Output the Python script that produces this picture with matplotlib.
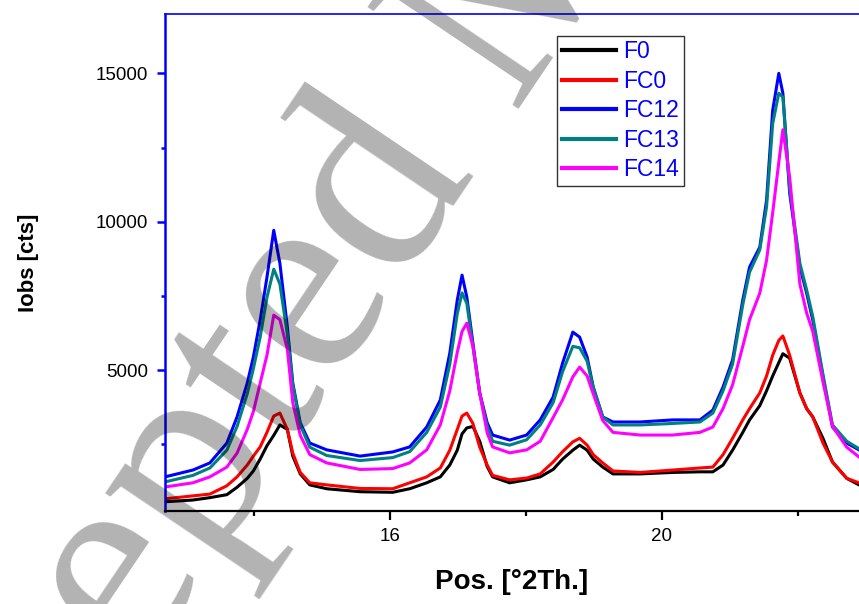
import matplotlib.pyplot as plt
from matplotlib.ticker import MultipleLocator

plt.rcParams['font.family'] = ['Liberation Sans', 'DejaVu Sans']

# Diffraction angle (degrees 2-theta) and measured intensity (counts)
two_theta = [12.69, 13.10, 13.35, 13.60, 13.75, 13.90, 13.99, 14.09, 14.19, 14.29,
             14.38, 14.49, 14.57, 14.68, 14.82, 15.07, 15.56, 16.04, 16.29, 16.54,
             16.74, 16.88, 16.99, 17.06, 17.13, 17.22, 17.32, 17.43, 17.51, 17.76,
             18.01, 18.21, 18.40, 18.54, 18.69, 18.79, 18.90, 18.99, 19.13, 19.28,
             19.68, 20.16, 20.56, 20.75, 20.90, 21.04, 21.19, 21.29, 21.44, 21.54,
             21.63, 21.72, 21.78, 21.88, 22.03, 22.13, 22.22, 22.37, 22.51, 22.72,
             22.90]

f0 = [560, 620, 700, 800, 1050, 1350, 1600, 2000, 2450, 2800,
      3150, 3000, 2100, 1500, 1130, 1000, 900, 880, 1000, 1200,
      1400, 1800, 2300, 2850, 3050, 3100, 2600, 1750, 1400, 1200,
      1300, 1400, 1650, 2000, 2300, 2470, 2300, 2000, 1730, 1500,
      1500, 1550, 1570, 1570, 1800, 2300, 2900, 3320, 3800, 4300,
      4800, 5250, 5550, 5400, 4230, 3700, 3420, 2700, 1900, 1350,
      1130]

fc0 = [660, 760, 820, 1100, 1400, 1800, 2100, 2410, 2900, 3450,
       3550, 3000, 2200, 1550, 1200, 1130, 1010, 1000, 1200, 1400,
       1700, 2300, 3000, 3450, 3550, 3200, 2400, 1800, 1450, 1300,
       1360, 1500, 1900, 2250, 2580, 2700, 2470, 2150, 1870, 1600,
       1550, 1630, 1700, 1730, 2150, 2700, 3320, 3700, 4230, 4800,
       5500, 6000, 6150, 5500, 4230, 3700, 3420, 2540, 1900, 1350,
       1200]

fc12 = [1400, 1630, 1870, 2540, 3420, 4560, 5440, 6680, 8130, 9710,
        8600, 6450, 4560, 3220, 2540, 2310, 2100, 2240, 2410, 3080,
        3990, 5570, 7360, 8200, 7460, 5910, 4230, 3220, 2810, 2640,
        2810, 3320, 4090, 5240, 6280, 6110, 5440, 4430, 3420, 3250,
        3250, 3320, 3320, 3650, 4430, 5340, 7360, 8470, 9140, 10720,
        13750, 15000, 14330, 10960, 8470, 7590, 6680, 4770, 3080, 2540,
        2310]

fc13 = [1230, 1450, 1700, 2300, 3100, 4200, 5050, 6110, 7450, 8400,
        7900, 6200, 4500, 3150, 2400, 2120, 1950, 2050, 2250, 2900,
        3750, 5200, 6900, 7600, 7250, 5800, 4200, 3100, 2600, 2470,
        2650, 3150, 3900, 4950, 5800, 5750, 5300, 4400, 3420, 3150,
        3150, 3200, 3250, 3550, 4300, 5200, 7200, 8300, 9050, 10500,
        13300, 14330, 14200, 11100, 8600, 7700, 6800, 4850, 3150, 2600,
        2350]

fc14 = [1060, 1200, 1400, 1730, 2200, 3000, 3600, 4560, 5500, 6850,
        6700, 5700, 3900, 2800, 2150, 1870, 1650, 1680, 1870, 2310,
        3150, 4300, 5600, 6300, 6580, 5800, 4230, 2880, 2410, 2210,
        2310, 2600, 3400, 4000, 4770, 5100, 4800, 4200, 3300, 2900,
        2810, 2810, 2900, 3080, 3700, 4500, 5800, 6700, 7590, 8700,
        10300, 12000, 13100, 11500, 7900, 6920, 6300, 4600, 3100, 2400,
        2070]

samples = ['F0', 'FC0', 'FC12', 'FC13', 'FC14']
series = [f0, fc0, fc12, fc13, fc14]
colors = ['black', 'red', 'blue', '#008080', 'magenta']

fig = plt.figure(figsize=(8.59, 6.04), dpi=100)
ax = fig.add_axes([165 / 859, 1 - 511 / 604, 1 - 165 / 859, 497 / 604])

for name, vals, c in zip(samples, series, colors):
    ax.plot(two_theta, vals, color=c, lw=2.2, label=name)

ax.set_xlim(12.69, 22.9)
ax.set_ylim(250, 17000)

ax.xaxis.set_major_locator(MultipleLocator(4))
ax.xaxis.set_minor_locator(MultipleLocator(2))
ax.yaxis.set_major_locator(MultipleLocator(5000))
ax.yaxis.set_minor_locator(MultipleLocator(2500))

ax.spines['right'].set_visible(False)
ax.spines['left'].set_color('blue')
ax.spines['left'].set_linewidth(1.8)
ax.spines['top'].set_color('blue')
ax.spines['top'].set_linewidth(1.2)
ax.spines['bottom'].set_color('black')
ax.spines['bottom'].set_linewidth(1.6)

ax.tick_params(axis='y', which='major', direction='out', length=6, width=1.8,
               color='blue', labelsize=13.5, pad=6)
ax.tick_params(axis='y', which='minor', direction='out', length=3, width=1.8,
               color='blue')
ax.tick_params(axis='x', which='major', direction='out', length=6.5, width=1.6,
               labelsize=13.5, pad=6)
ax.tick_params(axis='x', which='minor', direction='out', length=3.5, width=1.6)

ax.set_xlabel('Pos. [°2Th.]', fontsize=20, fontweight='bold', labelpad=17)
ax.set_ylabel('Iobs [cts]', fontsize=16, fontweight='bold', labelpad=41)

leg = ax.legend(loc='upper left', bbox_to_anchor=(0.565, 0.956), borderaxespad=0,
                fontsize=16.5, fancybox=False, framealpha=1, edgecolor='#333333',
                handlelength=2.35, handletextpad=0.35, labelspacing=0.28,
                borderpad=0.2)
leg.get_frame().set_linewidth(1.0)
for txt in leg.get_texts():
    txt.set_color('blue')
for line in leg.get_lines():
    line.set_linewidth(3)

# journal watermark laid over the plot
fig.text(501 / 859, 1 - 17 / 604, 'Accepted Manuscript', family='Liberation Serif',
         fontsize=200, color='black', alpha=0.3, rotation=56,
         ha='center', va='center', rotation_mode='anchor', zorder=10)

fig.savefig('out.png', dpi=100)
